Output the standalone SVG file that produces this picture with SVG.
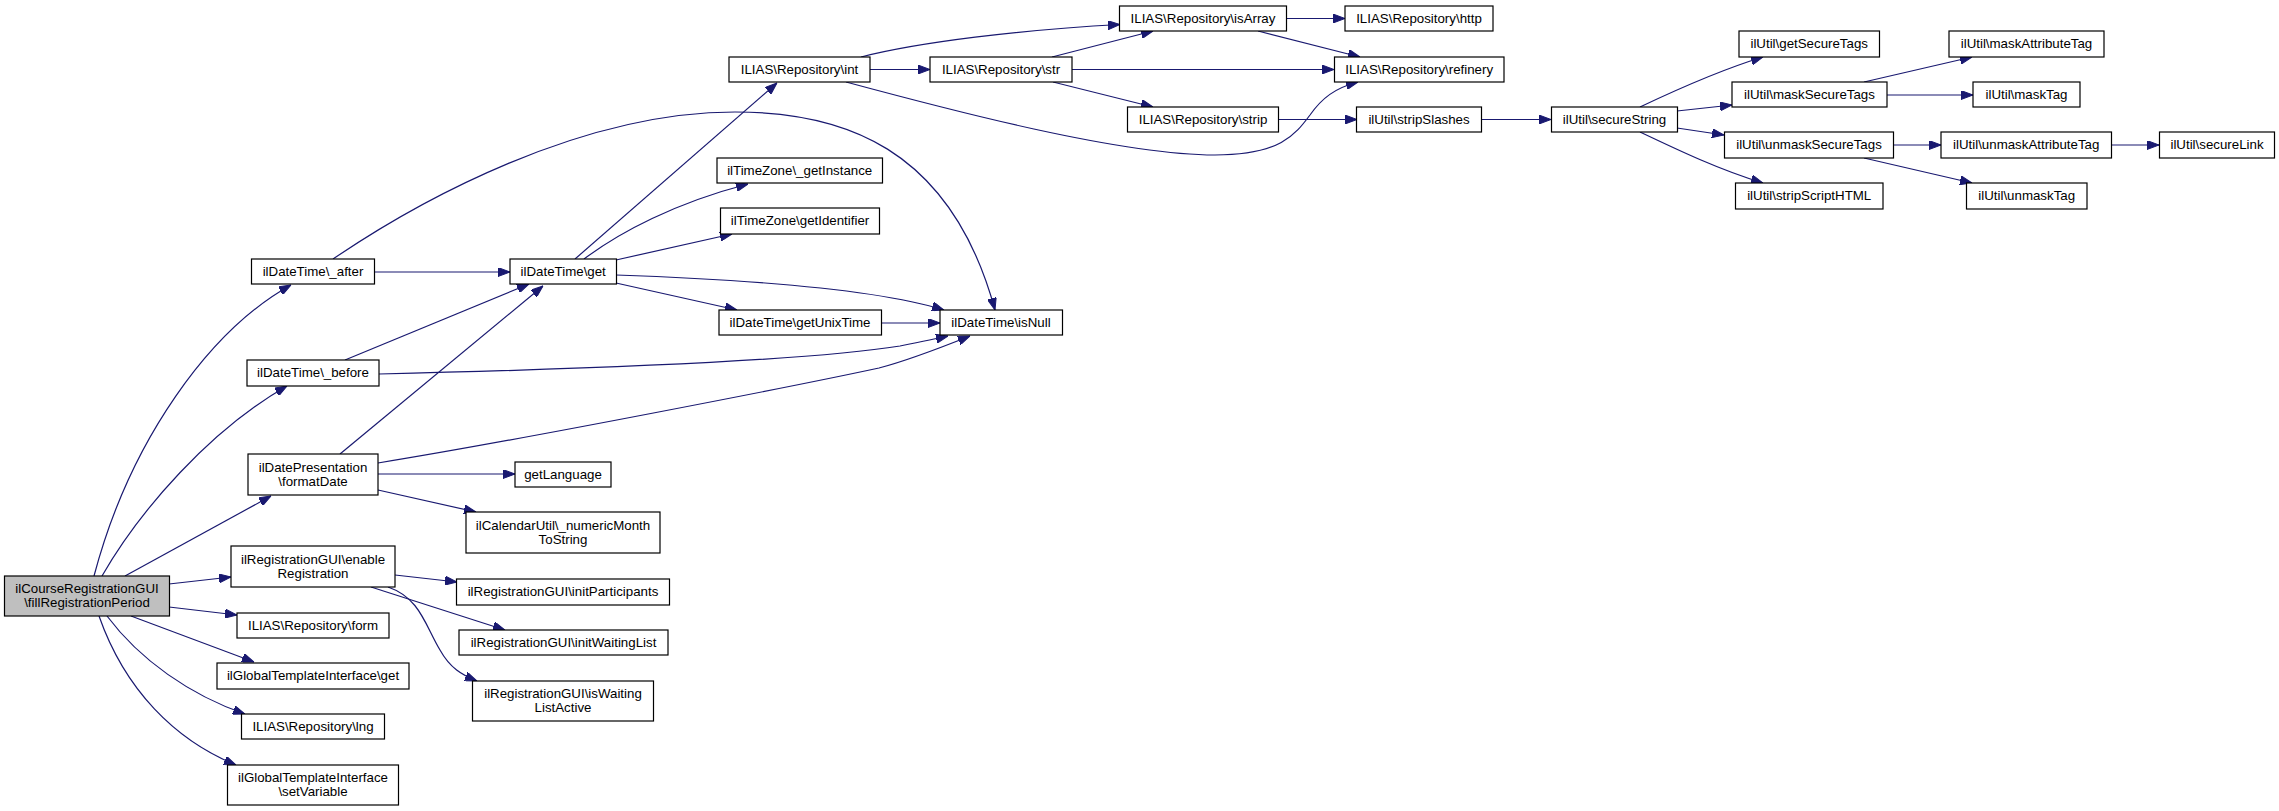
<svg xmlns="http://www.w3.org/2000/svg" width="2279" height="811" viewBox="0 0 2279 811">
<style>
.n rect{fill:#ffffff;stroke:#000000;stroke-width:1.2}
.n.main rect{fill:#bfbfbf}
.n text{font-family:"Liberation Sans",Arial,Helvetica,sans-serif;font-size:13.3px;fill:#000000;text-anchor:middle}
#edges path{fill:none;stroke:#191970;stroke-width:1.2;marker-end:url(#arr)}
</style>
<defs>
<marker id="arr" markerWidth="12" markerHeight="9" refX="12" refY="4.5" orient="auto" markerUnits="userSpaceOnUse">
<path d="M0,0 L12,4.5 L0,9 z" fill="#191970" stroke="#191970" stroke-width="1"/>
</marker>
</defs>
<rect width="2279" height="811" fill="#ffffff"/>
<g id="edges">
<path d="M94,576 C130,440 210,330 291,285"/>
<path d="M102,576 C140,510 210,430 287,386"/>
<path d="M125,576 L271,496"/>
<path d="M169,584 L231,577"/>
<path d="M169,607 L237,615"/>
<path d="M131,616 L254,662"/>
<path d="M107,616 C140,660 190,695 245,714"/>
<path d="M99,616 C125,690 175,740 236,765"/>
<path d="M374,272 L510,272"/>
<path d="M333,259 C420,200 580,112 735,112 C840,112 950,145 995,310"/>
<path d="M345,360 L529,284"/>
<path d="M379,374 C550,370 800,362 900,346 C920,342 935,339 948,336"/>
<path d="M340,454 L543,286"/>
<path d="M378,463 C520,440 800,385 879,368 C910,360 945,346 970,336"/>
<path d="M378,474 L515,474"/>
<path d="M378,490 L476,512"/>
<path d="M575,259 L777,83"/>
<path d="M584,259 C620,232 675,203 748,184"/>
<path d="M616,260 L732,234"/>
<path d="M616,275 C760,280 880,290 944,310"/>
<path d="M616,283 L737,310"/>
<path d="M881,323 L940,323"/>
<path d="M861,57 C920,42 1020,30 1120,24.5"/>
<path d="M870,69.5 L930,69.5"/>
<path d="M846,82 C950,110 1120,155 1215,155 C1280,155 1295,135 1310,115 C1322,98 1335,88 1358,82"/>
<path d="M1052,57 L1153,31"/>
<path d="M1072,69.5 L1334,69.5"/>
<path d="M1053,82 L1153,107"/>
<path d="M1286,18.5 L1345,18.5"/>
<path d="M1258,31 L1360,57"/>
<path d="M1278,119.5 L1357,119.5"/>
<path d="M1481,119.5 L1551,119.5"/>
<path d="M1640,107 C1680,88 1720,70 1763,57"/>
<path d="M1677,111 L1732,105"/>
<path d="M1677,128 L1724,135"/>
<path d="M1640,132 C1680,151 1720,170 1763,183"/>
<path d="M1864,82 L1972,57"/>
<path d="M1887,95 L1973,95"/>
<path d="M1894,145 L1941,145"/>
<path d="M1864,158 L1972,183"/>
<path d="M2111,145 L2159,145"/>
<path d="M395,575 L457,582"/>
<path d="M371,587 L505,630"/>
<path d="M388,587 C420,598 425,625 440,650 C450,668 462,675 477,681"/>
</g>
<g id="n_main" class="n main"><rect x="4.5" y="576" width="165" height="40"/><text x="87" y="593">ilCourseRegistrationGUI</text><text x="87" y="607">\fillRegistrationPeriod</text></g>
<g id="n_after" class="n"><rect x="251.5" y="259" width="123" height="25"/><text x="313" y="275.5">ilDateTime\_after</text></g>
<g id="n_get" class="n"><rect x="510" y="259" width="106.5" height="25"/><text x="563.2" y="275.5">ilDateTime\get</text></g>
<g id="n_before" class="n"><rect x="247" y="360" width="132" height="26"/><text x="313" y="377">ilDateTime\_before</text></g>
<g id="n_formatDate" class="n"><rect x="248" y="454" width="130" height="41"/><text x="313" y="471.5">ilDatePresentation</text><text x="313" y="485.5">\formatDate</text></g>
<g id="n_getLanguage" class="n"><rect x="515" y="462" width="96" height="25"/><text x="563" y="478.5">getLanguage</text></g>
<g id="n_numericMonth" class="n"><rect x="466" y="512" width="194" height="41"/><text x="563" y="529.5">ilCalendarUtil\_numericMonth</text><text x="563" y="543.5">ToString</text></g>
<g id="n_getUnixTime" class="n"><rect x="719" y="310" width="162.5" height="25"/><text x="800" y="326.5">ilDateTime\getUnixTime</text></g>
<g id="n_isNull" class="n"><rect x="940" y="310" width="122.5" height="25"/><text x="1001" y="326.5">ilDateTime\isNull</text></g>
<g id="n_int" class="n"><rect x="729" y="57" width="141" height="25"/><text x="799.5" y="73.5">ILIAS\Repository\int</text></g>
<g id="n_str" class="n"><rect x="930" y="57" width="142" height="25"/><text x="1001" y="73.5">ILIAS\Repository\str</text></g>
<g id="n_getInstance" class="n"><rect x="717" y="158" width="165.5" height="25"/><text x="799.7" y="174.5">ilTimeZone\_getInstance</text></g>
<g id="n_getIdentifier" class="n"><rect x="720.5" y="208" width="159" height="26"/><text x="800" y="225">ilTimeZone\getIdentifier</text></g>
<g id="n_isArray" class="n"><rect x="1119.5" y="6" width="167" height="25"/><text x="1203" y="22.5">ILIAS\Repository\isArray</text></g>
<g id="n_http" class="n"><rect x="1345" y="6" width="148" height="25"/><text x="1419" y="22.5">ILIAS\Repository\http</text></g>
<g id="n_refinery" class="n"><rect x="1334.5" y="57" width="169.5" height="25"/><text x="1419.2" y="73.5">ILIAS\Repository\refinery</text></g>
<g id="n_strip" class="n"><rect x="1127.5" y="107" width="151" height="25"/><text x="1203" y="123.5">ILIAS\Repository\strip</text></g>
<g id="n_stripSlashes" class="n"><rect x="1356.5" y="107" width="125" height="25"/><text x="1419" y="123.5">ilUtil\stripSlashes</text></g>
<g id="n_secureString" class="n"><rect x="1551.5" y="107" width="126" height="25"/><text x="1614.5" y="123.5">ilUtil\secureString</text></g>
<g id="n_getSecureTags" class="n"><rect x="1739" y="31" width="140.5" height="26"/><text x="1809.2" y="48">ilUtil\getSecureTags</text></g>
<g id="n_maskAttributeTag" class="n"><rect x="1949" y="31" width="155" height="26"/><text x="2026.5" y="48">ilUtil\maskAttributeTag</text></g>
<g id="n_maskSecureTags" class="n"><rect x="1732" y="82" width="155" height="25"/><text x="1809.5" y="98.5">ilUtil\maskSecureTags</text></g>
<g id="n_maskTag" class="n"><rect x="1973" y="82" width="107" height="25"/><text x="2026.5" y="98.5">ilUtil\maskTag</text></g>
<g id="n_unmaskSecureTags" class="n"><rect x="1724.5" y="132" width="169" height="26"/><text x="1809" y="149">ilUtil\unmaskSecureTags</text></g>
<g id="n_unmaskAttributeTag" class="n"><rect x="1941" y="132" width="170.5" height="26"/><text x="2026.2" y="149">ilUtil\unmaskAttributeTag</text></g>
<g id="n_secureLink" class="n"><rect x="2159.5" y="132" width="115" height="26"/><text x="2217" y="149">ilUtil\secureLink</text></g>
<g id="n_stripScriptHTML" class="n"><rect x="1735.5" y="183" width="147.5" height="26"/><text x="1809.2" y="200">ilUtil\stripScriptHTML</text></g>
<g id="n_unmaskTag" class="n"><rect x="1966.5" y="183" width="120.5" height="26"/><text x="2026.7" y="200">ilUtil\unmaskTag</text></g>
<g id="n_enableRegistration" class="n"><rect x="231" y="546" width="164" height="41"/><text x="313" y="563.5">ilRegistrationGUI\enable</text><text x="313" y="577.5">Registration</text></g>
<g id="n_form" class="n"><rect x="237" y="613" width="152" height="25"/><text x="313" y="629.5">ILIAS\Repository\form</text></g>
<g id="n_gtiGet" class="n"><rect x="217" y="663" width="192" height="26"/><text x="313" y="680">ilGlobalTemplateInterface\get</text></g>
<g id="n_lng" class="n"><rect x="241.5" y="714" width="143" height="25"/><text x="313" y="730.5">ILIAS\Repository\lng</text></g>
<g id="n_setVariable" class="n"><rect x="227.5" y="765" width="171" height="40"/><text x="313" y="782">ilGlobalTemplateInterface</text><text x="313" y="796">\setVariable</text></g>
<g id="n_initParticipants" class="n"><rect x="456.5" y="579" width="213" height="26"/><text x="563" y="596">ilRegistrationGUI\initParticipants</text></g>
<g id="n_initWaitingList" class="n"><rect x="459" y="630" width="209" height="25"/><text x="563.5" y="646.5">ilRegistrationGUI\initWaitingList</text></g>
<g id="n_isWaitingListActive" class="n"><rect x="472.5" y="681" width="181" height="40"/><text x="563" y="698">ilRegistrationGUI\isWaiting</text><text x="563" y="712">ListActive</text></g>
</svg>
